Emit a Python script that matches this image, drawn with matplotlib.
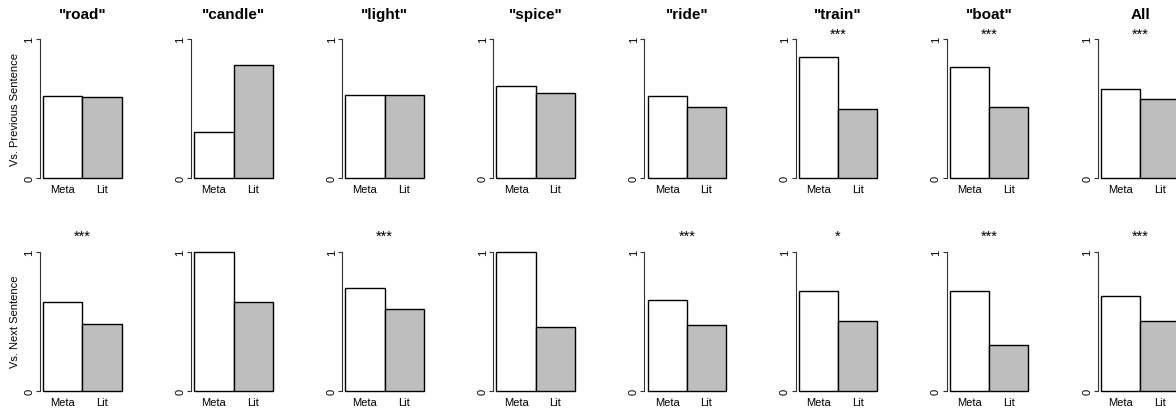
import numpy as np
import matplotlib
matplotlib.use('Agg')
import matplotlib.pyplot as plt

plt.rcParams['font.family'] = ['Liberation Sans', 'DejaVu Sans']

words = ['"road"', '"candle"', '"light"', '"spice"', '"ride"', '"train"', '"boat"', 'All']
conditions = ['Meta', 'Lit']
row_labels = ['Vs. Previous Sentence', 'Vs. Next Sentence']

# proportions: [Meta, Lit] per word
prev_meta = [0.59, 0.33, 0.60, 0.66, 0.59, 0.87, 0.80, 0.64]
prev_lit = [0.58, 0.81, 0.60, 0.61, 0.51, 0.50, 0.51, 0.57]
next_meta = [0.64, 1.00, 0.74, 1.00, 0.65, 0.72, 0.715, 0.68]
next_lit = [0.48, 0.64, 0.59, 0.46, 0.475, 0.50, 0.33, 0.50]

prev_sig = ['', '', '', '', '', '***', '***', '***']
next_sig = ['***', '', '***', '', '***', '*', '***', '***']

W, H = 1176, 410
fig = plt.figure(figsize=(W / 100, H / 100), dpi=100)

bar_px = 39.3
ext = 0.08
ax_w = (2 + 2 * ext) * bar_px
ax_h = 150.2
rows = [
    (prev_meta, prev_lit, prev_sig, 184.6),
    (next_meta, next_lit, next_sig, 397.3),
]

for r, (meta, lit, sig, bottom_px) in enumerate(rows):
    for i in range(len(words)):
        left_px = 40 + 151.1 * i
        ax = fig.add_axes([left_px / W, (H - bottom_px) / H, ax_w / W, ax_h / H])
        ax.bar([0.5, 1.5], [meta[i], lit[i]], width=1.0,
               color=['white', '#bebebe'], edgecolor='black', linewidth=1.0)
        ax.set_xlim(-ext, 2 + ext)
        ax.set_ylim(-0.04, 1.04)
        for s in ['top', 'right', 'bottom']:
            ax.spines[s].set_visible(False)
        ax.spines['left'].set_bounds(0, 1)
        ax.spines['left'].set_color('#333333')
        ax.set_yticks([0, 1])
        ax.set_yticklabels(['0', '1'], rotation=90, va='center', fontsize=8)
        ax.tick_params(axis='y', length=3, width=0.8, pad=1, color='#333333')
        ax.set_xticks([0.5, 1.5])
        ax.set_xticklabels(conditions, fontsize=8)
        ax.tick_params(axis='x', length=0, pad=0.5)
        ax.patch.set_visible(False)
        if r == 0:
            ax.annotate(words[i], xy=(0.5, 1), xycoords='axes fraction',
                        xytext=(0, 14), textcoords='offset points',
                        ha='center', va='center', fontsize=11, fontweight='bold')
            star_off = -3.2
        else:
            star_off = 4.8
        if sig[i]:
            ax.annotate(sig[i], xy=(0.5, 1), xycoords='axes fraction',
                        xytext=(0, star_off), textcoords='offset points',
                        ha='center', va='baseline', fontsize=10.5)
        if i == 0:
            ax.set_ylabel(row_labels[r], fontsize=8, labelpad=3)

fig.savefig('out.png', dpi=100)
